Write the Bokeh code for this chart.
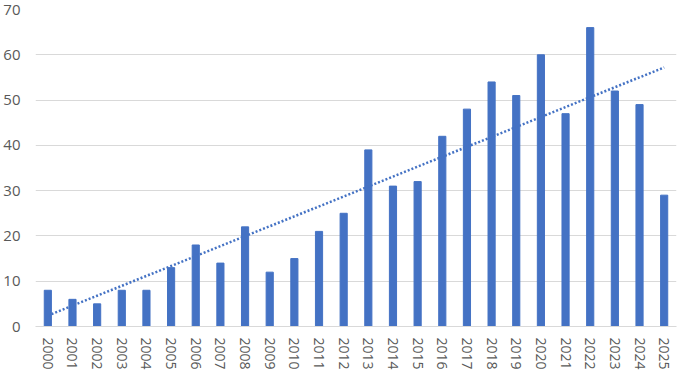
import numpy as np
from bokeh.plotting import figure
from bokeh.models import FactorRange, Range1d, FixedTicker
from bokeh.embed import file_html
from bokeh.resources import INLINE

years = [str(y) for y in range(2000, 2026)]
counts = [8, 6, 5, 8, 8, 13, 18, 14, 22, 12, 15, 21, 25, 39, 31, 32, 42, 48, 54, 51, 60, 47, 66, 52, 49, 29]
y_ticks = [0, 10, 20, 30, 40, 50, 60, 70]

# linear trendline (least squares over category index)
idx = np.arange(1, len(counts) + 1)
slope, intercept = np.polyfit(idx, counts, 1)
trend = list(slope * idx + intercept)

p = figure(width=678, height=372, x_range=FactorRange(*years), y_range=Range1d(0, 70),
           output_backend="svg", toolbar_location=None,
           min_border_left=30, min_border_right=2, min_border_top=9, min_border_bottom=46)

p.vbar(x=years, top=counts, width=0.29, color="#4472C4")
p.line(x=years, y=trend, line_color="#4472C4", line_width=2.5, line_dash="2 2")

p.outline_line_color = None
p.xgrid.grid_line_color = None
p.ygrid.grid_line_color = "#D9D9D9"
p.ygrid.grid_line_width = 1

p.yaxis.ticker = FixedTicker(ticks=y_ticks)
p.yaxis.axis_line_color = None
p.yaxis.major_tick_line_color = None
p.yaxis.minor_tick_line_color = None
p.yaxis.major_label_standoff = 9

p.xaxis.axis_line_color = "#D9D9D9"
p.xaxis.major_tick_line_color = None
p.xaxis.major_label_orientation = "vertical"
p.xaxis.major_label_standoff = 5

p.yaxis.major_label_text_font_size = "15px"
p.xaxis.major_label_text_font_size = "14px"
for ax in (p.xaxis, p.yaxis):
    ax.major_label_text_font = "Open Sans"
    ax.major_label_text_color = "#595959"

open("out.html", "w").write(file_html(p, INLINE))
